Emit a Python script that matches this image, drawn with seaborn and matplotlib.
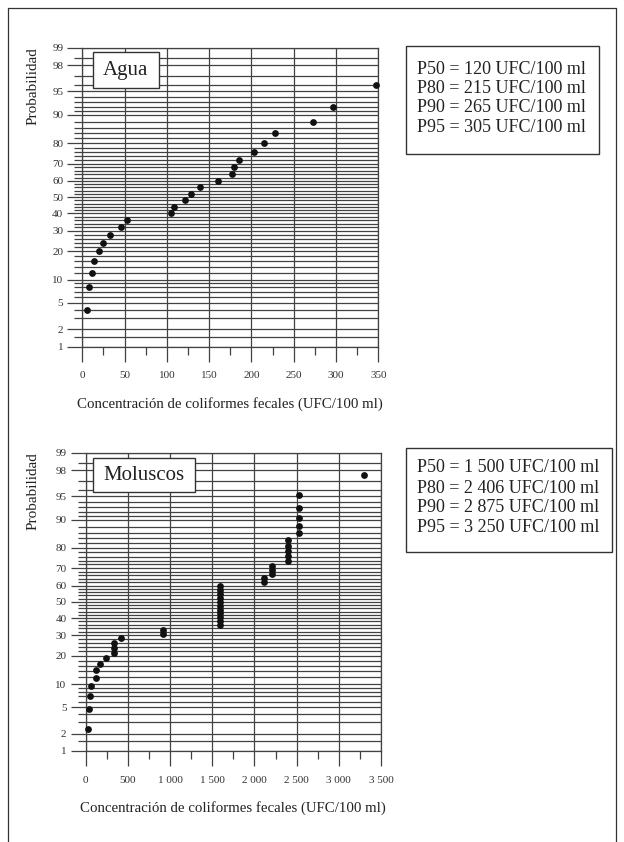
import numpy as np
import seaborn as sns
import matplotlib
matplotlib.use('Agg')
import matplotlib.pyplot as plt
from matplotlib.ticker import FixedLocator, NullFormatter
from matplotlib.patches import Rectangle
from matplotlib.lines import Line2D
from statistics import NormalDist

# --- data ---
agua_conc = [5.6, 7.5, 11, 13.5, 19.4, 24.5, 33, 45.4, 53, 105, 109, 121, 129, 139,
             161, 177, 179.5, 185, 203, 215, 227.5, 273, 297, 347]
agua_prob = [4, 8, 12, 16, 20, 24, 28, 32, 36, 40, 44, 48, 52, 56,
             60, 64, 68, 72, 76, 80, 84, 88, 92, 96]

mol_conc = [27, 39, 55, 63, 122, 122, 169, 237, 339, 339, 339, 422, 916, 916,
            1595, 1595, 1595, 1595, 1595, 1595, 1595, 1595, 1595, 1595, 1595,
            2117, 2117, 2212, 2212, 2212,
            2398, 2398, 2398, 2398, 2398,
            2532, 2532, 2532, 2532, 2532, 3298]
mol_prob = [2.4, 4.8, 7.1, 9.5, 11.9, 14.3, 16.7, 19.0, 21.4, 23.8, 26.2, 28.6,
            31.0, 33.3, 35.7, 38.1, 40.5, 42.9, 45.2, 47.6, 50.0, 52.4, 54.8,
            57.1, 59.5, 61.9, 64.3, 66.7, 69.0, 71.4, 73.8, 76.2, 78.6, 81.0,
            83.3, 85.7, 88.1, 90.5, 92.9, 95.2, 97.6]

prob_major = [1, 2, 5, 10, 20, 30, 40, 50, 60, 70, 80, 90, 95, 98, 99]
prob_minor = [1.5, 3, 4, 6, 7, 8, 9, 12, 14, 16, 18, 22, 24, 26, 28, 32, 34, 36,
              38, 42, 44, 46, 48, 52, 54, 56, 58, 62, 64, 66, 68, 72, 74, 76, 78,
              82, 84, 86, 88, 91, 92, 93, 94, 96, 97, 98.5]

agua_xticks = [0, 50, 100, 150, 200, 250, 300, 350]
agua_xminor = [25, 75, 125, 175, 225, 275, 325]
mol_xticks = [0, 500, 1000, 1500, 2000, 2500, 3000, 3500]
mol_xlabels = ['0', '500', '1 000', '1 500', '2 000', '2 500', '3 000', '3 500']
mol_xminor = [250, 750, 1250, 1750, 2250, 2750, 3250]

agua_stats = ['P50 = 120 UFC/100 ml', 'P80 = 215 UFC/100 ml',
              'P90 = 265 UFC/100 ml', 'P95 = 305 UFC/100 ml']
mol_stats = ['P50 = 1 500 UFC/100 ml', 'P80 = 2 406 UFC/100 ml',
             'P90 = 2 875 UFC/100 ml', 'P95 = 3 250 UFC/100 ml']

xlabel = 'Concentración de coliformes fecales (UFC/100 ml)'

# --- normal probability scale ---
_nd = NormalDist()
_inv = np.vectorize(_nd.inv_cdf, otypes=[float])
_cdf = np.vectorize(_nd.cdf, otypes=[float])


def to_z(p):
    p = np.clip(np.asarray(p, dtype=float) / 100.0, 1e-9, 1 - 1e-9)
    return _inv(p)


def from_z(z):
    return _cdf(np.asarray(z, dtype=float)) * 100.0


sns.set_theme(style='white')
plt.rcParams['font.family'] = ['Liberation Serif', 'DejaVu Serif']
plt.rcParams['axes.unicode_minus'] = False

W, H = 624, 842
fig = plt.figure(figsize=(W / 100, H / 100), dpi=100)
gc = '#424242'


def px(x0, y0, x1, y1):
    return [x0 / W, 1 - y1 / H, (x1 - x0) / W, (y1 - y0) / H]


def panel(ax, conc, prob, xmax, xticks, xlabels, xminor, name, box, ylab_x):
    ax.set_yscale('function', functions=(to_z, from_z))
    sns.scatterplot(x=conc, y=prob, ax=ax, color='#111111', s=24,
                    linewidth=0, zorder=5, clip_on=False)
    ax.set_xlim(0, xmax)
    ax.set_ylim(1, 99)
    ax.yaxis.set_major_locator(FixedLocator(prob_major))
    ax.yaxis.set_minor_locator(FixedLocator(prob_minor))
    ax.yaxis.set_minor_formatter(NullFormatter())
    ax.set_yticklabels([str(v) for v in prob_major])
    ax.xaxis.set_major_locator(FixedLocator(xticks))
    ax.xaxis.set_minor_locator(FixedLocator(xminor))
    ax.set_xticklabels(xlabels)
    ax.grid(True, axis='y', which='both', color=gc, lw=0.9)
    ax.grid(True, axis='x', which='major', color=gc, lw=0.9)
    ax.grid(False, axis='x', which='minor')
    for s in ax.spines.values():
        s.set_color(gc)
        s.set_linewidth(0.9)
    ax.tick_params(axis='both', which='both', direction='out', color=gc,
                   width=0.9, labelcolor='#333333')
    ax.tick_params(axis='y', which='major', length=10.8, pad=3, labelsize=8,
                   left=True)
    ax.tick_params(axis='y', which='minor', length=5.6, left=True)
    ax.tick_params(axis='x', which='major', length=10.8, pad=7, labelsize=8,
                   bottom=True)
    ax.tick_params(axis='x', which='minor', length=5.8, bottom=True)
    ax.set_xlabel(xlabel, fontsize=10.7, color='#222222')
    ax.xaxis.set_label_coords(0.5, -0.168)
    ax.set_ylabel('')
    ax.text(ylab_x, 1.0, 'Probabilidad', transform=ax.transAxes, rotation=90,
            ha='center', va='top', fontsize=11, color='#222222')
    bx0, by0, bx1, by1 = box
    ax.add_patch(Rectangle((bx0, by0), bx1 - bx0, by1 - by0,
                           transform=ax.transAxes, fc='white', ec='#333333',
                           lw=1.0, zorder=6))
    ax.text((bx0 + bx1) / 2, (by0 + by1) / 2, name, transform=ax.transAxes,
            ha='center', va='center', fontsize=15, color='#222222', zorder=7)


ax1 = fig.add_axes(px(82.3, 47.7, 378.3, 346.7))
panel(ax1, agua_conc, agua_prob, 350, agua_xticks,
      [str(v) for v in agua_xticks], agua_xminor, 'Agua',
      (0.036, 0.864, 0.259, 0.985), -0.167)

ax2 = fig.add_axes(px(85.7, 452.7, 381.0, 751.0))
panel(ax2, mol_conc, mol_prob, 3500, mol_xticks, mol_xlabels, mol_xminor,
      'Moluscos', (0.026, 0.867, 0.370, 0.981), -0.177)


def stats_box(lines, x0, y0, x1, y1, ys):
    fig.patches.append(Rectangle((x0 / W, 1 - y1 / H), (x1 - x0) / W,
                                 (y1 - y0) / H, transform=fig.transFigure,
                                 fc='white', ec='#333333', lw=1.0))
    for t, y in zip(lines, ys):
        fig.text(417 / W, 1 - y / H, t, ha='left', va='center',
                 fontsize=13, color='#222222')


stats_box(agua_stats, 406, 46, 599, 154, [69, 88.5, 108, 127.5])
stats_box(mol_stats, 406, 448, 612, 552, [468, 488, 507.5, 527])

# outer frame (open at the bottom)
for xs, ys in [([8, 8], [8, H + 5]), ([8, 616], [8, 8]), ([616, 616], [8, H + 5])]:
    fig.lines.append(Line2D([x / W for x in xs], [1 - y / H for y in ys],
                            transform=fig.transFigure, color='#333333', lw=0.9))

fig.savefig('out.png', dpi=100)
